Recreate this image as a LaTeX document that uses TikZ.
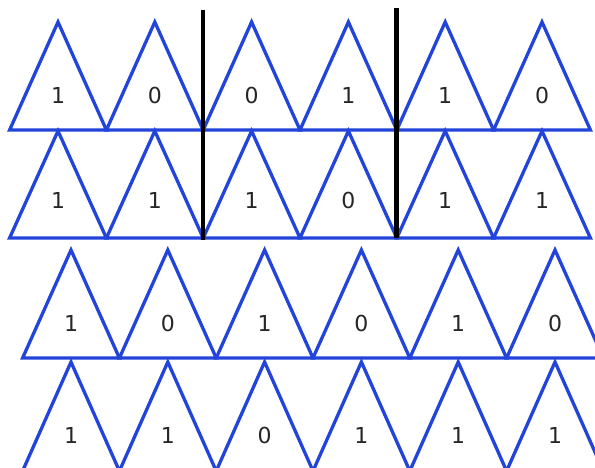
\documentclass[tikz,border=0pt]{standalone}
\usepackage{fontspec}
\setmainfont{DejaVu Sans}
\definecolor{triblue}{RGB}{35,68,218}
\begin{document}
\begin{tikzpicture}[x=1pt,y=-1pt,
  tri/.style={draw=triblue, line width=3.3pt, line join=miter},
  lbl/.style={font=\fontsize{22}{22}\selectfont, text=black!85, inner sep=0pt},
  bar/.style={draw=black, line width=4.5pt}]
\useasboundingbox (0,0) rectangle (595,468);
\clip (0,0) rectangle (595,468);
\fill[white] (0,0) rectangle (595,468);
% row 1
\foreach \d [count=\i from 0] in {1,0,0,1,1,0}{
  \draw[tri] (9.6+\i*96.8,130) -- (58+\i*96.8,22) -- (106.4+\i*96.8,130) -- cycle;
  \node[lbl] (a\i) at (58+\i*96.8,95) {\d};
}
% row 2
\foreach \d [count=\i from 0] in {1,1,1,0,1,1}{
  \draw[tri] (9.6+\i*96.8,238) -- (58+\i*96.8,131) -- (106.4+\i*96.8,238) -- cycle;
  \node[lbl] (b\i) at (58+\i*96.8,200) {\d};
}
% row 3
\foreach \d [count=\i from 0] in {1,0,1,0,1,0}{
  \draw[tri] (22.6+\i*96.8,358) -- (71+\i*96.8,250) -- (119.4+\i*96.8,358) -- cycle;
  \node[lbl] (c\i) at (71+\i*96.8,323) {\d};
}
% row 4
\foreach \d [count=\i from 0] in {1,1,0,1,1,1}{
  \draw[tri] (22.6+\i*96.8,471) -- (71+\i*96.8,362) -- (119.4+\i*96.8,471) -- cycle;
  \node[lbl] (d\i) at (71+\i*96.8,435) {\d};
}
% black separators
\coordinate (s1t) at (203.2,10);
\coordinate (s1b) at (203.2,240);
\coordinate (s2t) at (396.5,8);
\coordinate (s2b) at (396.5,238);
\draw[bar] (s1t) -- (s1b);
\draw[bar] (s2t) -- (s2b);
\end{tikzpicture}
\end{document}
